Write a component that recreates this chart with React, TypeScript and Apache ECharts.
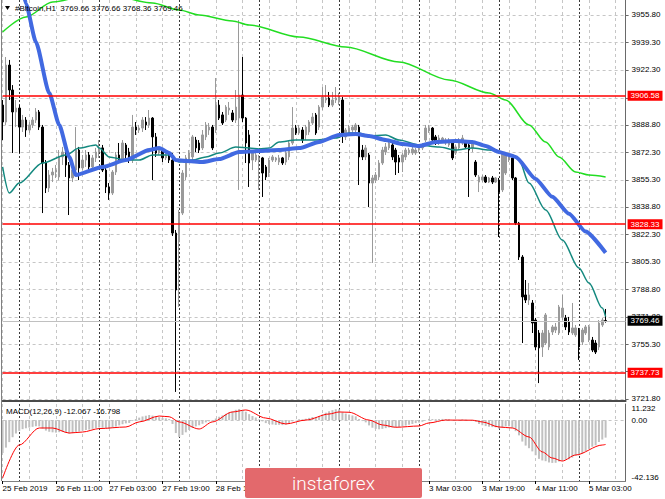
import { useEffect, useRef } from 'react';
import * as echarts from 'echarts';

// ---- Price data (H1 bars, 25 Feb 2019 19:00 .. 5 Mar 2019 08:00) ----
const OPEN = [
  3900.9, 3890.6, 3925.3, 3910.1, 3896.7, 3899.1, 3887.5, 3891.8, 3885.7, 3888.8,
  3891.8, 3896.7, 3887.5, 3865.6, 3850.4, 3858.3, 3860.1, 3857.1, 3869.3, 3872.3,
  3864.4, 3856.5, 3861.3, 3873.5, 3862.6, 3867.4, 3870.5, 3863.2, 3868.7, 3872.3,
  3874.8, 3861.3, 3851.0, 3847.3, 3860.1, 3870.5, 3867.4, 3876.6, 3872.3, 3867.4,
  3887.5, 3885.7, 3886.9, 3890.6, 3888.8, 3893.0, 3881.5, 3871.7, 3873.5, 3868.7,
  3870.5, 3867.4, 3822.9, 3817.5, 3835.1, 3857.1, 3867.4, 3869.3, 3879.6, 3877.8,
  3874.8, 3881.5, 3885.7, 3887.5, 3885.7, 3900.9, 3894.9, 3891.8, 3897.9, 3896.1,
  3891.8, 3893.0, 3907.0, 3893.0, 3882.7, 3867.4, 3867.4, 3867.4, 3868.7, 3863.2,
  3859.5, 3867.4, 3867.4, 3866.2, 3868.7, 3866.2, 3869.3, 3877.8, 3886.9, 3883.9,
  3885.7, 3882.7, 3884.5, 3890.0, 3894.9, 3887.5, 3899.7, 3904.0, 3905.2, 3900.9,
  3904.0, 3902.8, 3904.0, 3881.5, 3883.9, 3885.7, 3885.7, 3887.5, 3873.5, 3869.3,
  3870.5, 3853.4, 3855.2, 3857.1, 3865.6, 3872.3, 3874.8, 3876.6, 3873.5, 3868.7,
  3866.2, 3869.3, 3871.7, 3871.7, 3871.7, 3873.5, 3874.8, 3879.6, 3885.1, 3886.9,
  3881.5, 3877.8, 3878.4, 3877.8, 3876.6, 3877.8, 3871.7, 3874.8, 3877.8, 3878.4,
  3876.6, 3874.8, 3866.2, 3854.0, 3855.2, 3857.1, 3854.0, 3856.5, 3854.0, 3855.2,
  3849.2, 3859.5, 3867.4, 3868.7, 3856.5, 3829.0, 3808.3, 3785.2, 3782.1, 3780.3,
  3769.9, 3762.0, 3753.5, 3755.9, 3753.5, 3762.6, 3763.8, 3762.0, 3771.8, 3771.2,
  3768.7, 3762.0, 3760.8, 3763.8, 3756.5, 3762.0, 3757.7, 3757.7, 3755.9, 3753.5,
  3766.9, 3769.66,
];
const CLOSE = [
  3890.6, 3925.3, 3910.1, 3896.7, 3899.1, 3887.5, 3891.8, 3885.7, 3888.8, 3891.8,
  3896.7, 3887.5, 3865.6, 3850.4, 3858.3, 3860.1, 3861.3, 3869.3, 3872.3, 3864.4,
  3856.5, 3861.3, 3873.5, 3862.6, 3867.4, 3870.5, 3863.2, 3868.7, 3872.3, 3874.8,
  3861.3, 3851.0, 3847.3, 3860.1, 3870.5, 3867.4, 3877.8, 3870.5, 3867.4, 3887.5,
  3885.7, 3886.9, 3891.8, 3888.8, 3893.0, 3881.5, 3871.7, 3873.5, 3868.7, 3870.5,
  3867.4, 3822.9, 3788.2, 3835.1, 3859.5, 3868.7, 3871.7, 3881.5, 3874.8, 3873.5,
  3882.7, 3888.8, 3887.5, 3874.8, 3900.9, 3893.0, 3890.0, 3899.7, 3899.1, 3891.8,
  3899.7, 3907.0, 3893.0, 3877.8, 3865.6, 3871.7, 3870.5, 3868.7, 3859.5, 3857.1,
  3867.4, 3869.3, 3868.7, 3868.7, 3865.6, 3871.7, 3877.8, 3886.9, 3883.9, 3886.9,
  3879.6, 3887.5, 3890.6, 3893.6, 3883.9, 3899.7, 3905.8, 3905.2, 3900.9, 3904.0,
  3905.2, 3905.8, 3882.7, 3885.7, 3886.9, 3887.5, 3888.8, 3869.3, 3869.3, 3874.8,
  3853.4, 3856.5, 3858.3, 3865.6, 3873.5, 3875.4, 3877.8, 3869.3, 3866.2, 3866.2,
  3870.5, 3873.5, 3873.5, 3874.1, 3873.5, 3875.4, 3876.6, 3886.9, 3886.9, 3879.6,
  3878.4, 3880.8, 3880.8, 3879.6, 3879.6, 3868.7, 3875.4, 3879.6, 3880.8, 3875.4,
  3873.5, 3877.8, 3858.3, 3857.1, 3857.1, 3854.0, 3856.5, 3854.0, 3856.5, 3847.9,
  3871.7, 3870.5, 3869.3, 3856.5, 3829.0, 3808.3, 3784.0, 3782.1, 3785.2, 3768.1,
  3753.5, 3752.9, 3762.0, 3773.0, 3762.0, 3765.7, 3765.7, 3777.9, 3777.2, 3765.7,
  3762.6, 3765.1, 3765.1, 3753.5, 3763.8, 3765.7, 3765.7, 3751.6, 3750.4, 3768.1,
  3769.9, 3769.46,
];
const LOW = [
  3879.6, 3888.8, 3904.0, 3871.7, 3887.5, 3871.7, 3884.5, 3881.5, 3883.9, 3886.9,
  3890.0, 3885.7, 3835.1, 3847.3, 3847.9, 3854.0, 3856.5, 3855.2, 3864.4, 3857.1,
  3833.9, 3854.0, 3860.1, 3855.2, 3861.3, 3863.2, 3861.3, 3861.3, 3866.2, 3868.7,
  3860.1, 3847.3, 3843.1, 3846.1, 3858.3, 3865.6, 3866.2, 3867.4, 3865.6, 3865.6,
  3882.7, 3883.9, 3884.5, 3885.7, 3886.9, 3855.2, 3869.3, 3870.5, 3866.2, 3867.4,
  3865.6, 3821.1, 3726.1, 3777.9, 3833.9, 3855.2, 3866.2, 3867.4, 3872.3, 3871.7,
  3873.5, 3879.6, 3882.7, 3873.5, 3883.9, 3891.8, 3888.8, 3890.6, 3894.9, 3890.6,
  3890.0, 3849.2, 3890.6, 3865.6, 3851.0, 3861.3, 3866.2, 3849.2, 3844.9, 3855.2,
  3857.1, 3866.2, 3866.2, 3864.4, 3864.4, 3864.4, 3867.4, 3876.6, 3882.7, 3882.7,
  3877.8, 3879.6, 3882.7, 3888.8, 3882.7, 3885.7, 3897.9, 3902.2, 3899.7, 3899.7,
  3902.2, 3900.9, 3877.8, 3879.6, 3882.7, 3883.9, 3884.5, 3852.2, 3867.4, 3867.4,
  3838.8, 3804.7, 3853.4, 3855.2, 3864.4, 3870.5, 3873.5, 3867.4, 3858.3, 3859.5,
  3860.1, 3867.4, 3870.5, 3870.5, 3870.5, 3872.3, 3873.5, 3878.4, 3883.9, 3878.4,
  3876.6, 3876.6, 3877.8, 3876.6, 3875.4, 3867.4, 3870.5, 3873.5, 3876.6, 3874.8,
  3844.9, 3872.3, 3857.1, 3847.9, 3854.0, 3853.4, 3853.4, 3852.8, 3853.4, 3820.5,
  3847.9, 3858.3, 3866.2, 3855.2, 3827.8, 3806.5, 3755.9, 3780.3, 3779.1, 3762.0,
  3751.6, 3731.5, 3747.4, 3754.7, 3751.6, 3760.8, 3762.0, 3760.8, 3769.9, 3763.8,
  3760.8, 3760.8, 3759.6, 3745.6, 3754.7, 3760.8, 3756.5, 3750.4, 3749.2, 3751.6,
  3765.7, 3768.36,
];
const HIGH = [
  3904.0, 3930.2, 3928.4, 3913.1, 3904.0, 3900.9, 3894.9, 3893.6, 3890.6, 3893.6,
  3899.1, 3897.9, 3888.8, 3867.4, 3861.3, 3862.6, 3864.4, 3873.5, 3875.4, 3873.5,
  3866.2, 3864.4, 3887.5, 3875.4, 3870.5, 3873.5, 3872.3, 3870.5, 3874.8, 3879.6,
  3876.6, 3863.2, 3853.4, 3861.3, 3872.3, 3877.8, 3879.6, 3877.8, 3874.8, 3894.9,
  3890.6, 3888.8, 3893.6, 3893.6, 3897.9, 3893.6, 3883.9, 3875.4, 3874.8, 3872.3,
  3871.7, 3871.7, 3824.8, 3837.0, 3861.3, 3870.5, 3873.5, 3882.7, 3881.5, 3879.6,
  3885.7, 3890.6, 3890.0, 3888.8, 3917.4, 3904.0, 3896.7, 3900.9, 3902.8, 3897.9,
  3910.1, 3952.7, 3930.2, 3893.6, 3885.7, 3873.5, 3871.7, 3870.5, 3869.3, 3864.4,
  3868.7, 3870.5, 3869.3, 3870.5, 3869.3, 3874.8, 3879.6, 3899.7, 3888.8, 3888.8,
  3887.5, 3888.8, 3891.8, 3896.1, 3896.1, 3900.9, 3911.9, 3913.1, 3908.9, 3908.9,
  3911.9, 3908.3, 3905.8, 3886.9, 3888.8, 3888.8, 3890.0, 3888.8, 3876.6, 3876.6,
  3871.7, 3858.3, 3860.1, 3867.4, 3875.4, 3877.8, 3879.6, 3877.8, 3874.8, 3870.5,
  3871.7, 3874.8, 3874.8, 3875.4, 3874.8, 3876.6, 3877.8, 3888.8, 3888.8, 3887.5,
  3882.7, 3882.7, 3881.5, 3880.8, 3880.8, 3878.4, 3876.6, 3880.8, 3882.7, 3879.6,
  3877.8, 3878.4, 3867.4, 3858.3, 3858.3, 3858.3, 3857.1, 3857.7, 3857.1, 3856.5,
  3872.3, 3871.7, 3870.5, 3870.5, 3857.1, 3829.7, 3809.5, 3794.3, 3792.5, 3782.1,
  3771.2, 3763.8, 3763.8, 3774.2, 3763.8, 3766.9, 3768.1, 3779.1, 3785.2, 3773.0,
  3771.8, 3780.3, 3766.9, 3765.1, 3765.1, 3766.9, 3766.9, 3759.6, 3757.7, 3769.9,
  3771.2, 3776.66,
];

// Moving averages: [bar index, price]
const MA_GREEN = [
  [0, 3945.4], [7, 3954.6], [15, 3963.7], [29, 3969.8], [45, 3963.1], [53, 3958.8],
  [59, 3955.8], [69, 3952.1], [74, 3949.7], [89, 3942.4], [103, 3936.3], [119, 3927.2],
  [134, 3916.2], [146, 3908.3], [151, 3904.0], [158, 3888.8], [163, 3878.4], [167, 3869.3],
  [172, 3860.1], [176, 3858.3], [181, 3857.1],
];
const MA_BLUE = [
  [6, 3972.0], [7, 3962.7], [10, 3939.3], [14, 3908.2], [17, 3888.8], [20, 3869.3],
  [22, 3858.3], [30, 3863.2], [37, 3867.4], [44, 3873.5], [47, 3874.7], [50, 3871.7],
  [52, 3867.4], [55, 3866.8], [60, 3866.2], [65, 3868.0], [71, 3872.3], [77, 3872.9],
  [83, 3873.5], [89, 3874.7], [95, 3878.4], [101, 3882.7], [106, 3883.3], [110, 3882.1],
  [115, 3879.6], [120, 3877.2], [125, 3876.0], [130, 3878.4], [136, 3879.0], [141, 3878.4],
  [145, 3876.0], [149, 3872.3], [152, 3870.5], [154, 3869.3], [160, 3855.9], [165, 3845.0],
  [170, 3834.7], [175, 3823.8], [181, 3810.9],
];
const MA_TEAL = [
  [0, 3863.2], [2, 3847.3], [5, 3853.4], [12, 3865.6], [19, 3870.5], [23, 3874.7],
  [28, 3876.6], [29, 3874.7], [32, 3869.3], [37, 3867.4], [41, 3867.4], [45, 3870.5],
  [50, 3870.5], [53, 3866.2], [57, 3867.4], [61, 3869.3], [65, 3871.7], [70, 3875.3],
  [74, 3874.7], [77, 3874.1], [80, 3874.7], [83, 3878.4], [88, 3879.6], [94, 3879.6],
  [100, 3880.8], [104, 3883.9], [107, 3883.9], [110, 3882.1], [115, 3882.7], [119, 3879.6],
  [125, 3876.6], [131, 3875.3], [136, 3873.5], [141, 3874.7], [146, 3873.5], [153, 3870.5],
  [155, 3867.4], [158, 3853.4], [163, 3837.0], [168, 3818.7], [173, 3801.6], [176, 3792.5],
  [180, 3777.2], [181, 3772.0],
];

// MACD(12,26,9)
const MACD_HIST = [
  -22.7, -19.0, -15.2, -11.8, -9.2, -7.4, -6.2, -5.6, -5.1, -4.6,
  -4.2, -4.3, -5.8, -7.2, -8.0, -8.4, -8.6, -8.3, -8.0, -8.6,
  -9.2, -8.9, -8.1, -7.8, -7.3, -6.8, -6.5, -6.0, -5.4, -5.0,
  -5.2, -5.6, -5.9, -5.3, -4.4, -3.6, -2.8, -2.2, -1.9, -0.6,
  0.8, 1.8, 2.6, 3.1, 3.6, 3.2, 2.4, 2.1, 1.6, 1.3,
  0.8, -2.6, -8.9, -11.6, -10.2, -8.4, -6.8, -5.2, -4.3, -3.5,
  -2.5, -1.5, -0.8, -0.9, 1.2, 2.4, 3.3, 4.4, 5.3, 6.1,
  7.2, 7.8, 7.1, 5.9, 4.2, 2.9, 1.8, 0.6, -0.8, -2.0,
  -2.6, -3.0, -3.3, -3.2, -3.4, -3.0, -2.2, -0.8, 0.2, 0.7,
  0.6, 1.0, 1.6, 2.2, 2.1, 2.8, 4.0, 5.2, 6.2, 7.0,
  7.6, 7.5, 5.4, 4.6, 3.9, 3.3, 2.7, 0.8, -0.6, -1.5,
  -3.6, -5.2, -6.0, -6.3, -6.0, -5.5, -5.0, -4.9, -4.8, -4.6,
  -4.2, -3.7, -3.1, -2.6, -2.0, -1.6, -1.1, 0.1, 0.9, 0.8,
  0.7, 0.8, 0.9, 0.8, 0.6, -0.2, -0.3, 0.2, 0.6, 0.4,
  0.1, 0.2, -1.1, -2.6, -3.5, -4.1, -4.5, -4.8, -4.9, -5.8,
  -4.9, -4.3, -4.2, -5.2, -7.6, -10.5, -14.8, -17.6, -19.4, -21.6,
  -24.3, -26.8, -27.9, -28.4, -29.3, -29.6, -29.5, -28.6, -27.8, -27.5,
  -27.1, -25.9, -24.6, -24.3, -23.0, -21.6, -19.9, -18.4, -17.4, -15.1,
  -13.4, -12.067,
];
const MACD_SIGNAL = [
  [0, -40.1], [5, -17.2], [11, -5.4], [15, -5.4], [20, -8.9], [24, -8.2], [29, -5.8],
  [37, -4.7], [41, -1.2], [47, 2.9], [50, 2.4], [53, -1.2], [59, -6.1], [63, -1.2],
  [69, 5.7], [73, 7.1], [79, 1.5], [85, -2.6], [91, 0.1], [98, 4.3], [101, 5.7],
  [104, 5.5], [110, 0.1], [114, -3.3], [118, -4.9], [125, -4.0], [128, -1.9], [133, 0.1],
  [141, 0.0], [144, -1.2], [149, -4.7], [153, -5.4], [158, -11.6], [162, -22.0],
  [165, -26.2], [168, -28.3], [172, -24.1], [180, -17.2], [181, -16.798],
];

// Axis / levels
const PRICE_TICKS = [3955.8, 3939.3, 3922.3, 3905.3, 3888.8, 3872.3, 3855.3, 3838.8, 3822.3, 3805.3, 3788.8, 3771.8, 3755.3, 3738.8, 3721.8];
// labels that are not covered by the level boxes on the right
const PRICE_LABELS = [3955.8, 3939.3, 3922.3, 3888.8, 3872.3, 3855.3, 3838.8, 3822.3, 3805.3, 3788.8, 3771.8, 3755.3, 3721.8];
const PRICE_MIN = 3720.57;
const PRICE_MAX = 3964.94;
const MACD_MAX = 11.232;
const MACD_MIN = -42.136;
const RED_LEVELS = [3906.58, 3828.33, 3737.73];
const LAST_PRICE = 3769.46;
const X_TICK_LABELS = ['25 Feb 2019', '26 Feb 11:00', '27 Feb 03:00', '27 Feb 19:00', '28 Feb 11:00', '1 Mar 03:00', '1 Mar 19:00', '2 Mar 11:00', '3 Mar 03:00', '3 Mar 19:00', '4 Mar 11:00', '5 Mar 03:00'];
// tick labels fully hidden under the watermark in the reference
const X_LABELS_UNDER_LOGO = ['1 Mar 03:00', '1 Mar 19:00', '2 Mar 11:00'];
const LABEL_EVERY = 16;
const GRID_EVERY = 8;
const DAY_START = 5; // first midnight bar
const N_SLOTS = 188; // bars + right shift space

const FONT = '"Liberation Sans", Arial, sans-serif';

export default function App() {
  const ref = useRef<HTMLDivElement>(null);
  useEffect(() => {
    if (!ref.current) return;
    const chart = echarts.init(ref.current, null, { renderer: 'svg' });
    const cats = Array.from({ length: N_SLOTS }, (_, i) => String(i));
    const gridLine = { color: '#c6c6c6', type: [3, 3] as any, width: 1 };
    const dayLine = { color: '#3a3a3a', type: [2, 2] as any, width: 1 };
    const isGrid = (i: number) => i % GRID_EVERY === 0;
    const isDay = (i: number) => i >= DAY_START && (i - DAY_START) % 24 === 0;
    const isTick = (i: number) => i % LABEL_EVERY === 0 && i / LABEL_EVERY < X_TICK_LABELS.length;
    const isLabel = (i: number) => isTick(i) && !X_LABELS_UNDER_LOGO.includes(X_TICK_LABELS[i / LABEL_EVERY]);
    const left = 2.6;
    const width = 623;

    const lvlLabel = (bg: string) => ({
      show: true,
      position: 'end',
      distance: 2,
      formatter: (p: any) => Number(p.value).toFixed(2),
      backgroundColor: bg,
      color: '#fff',
      fontSize: 8,
      fontFamily: FONT,
      padding: [1, 3, 1, 3],
    });

    const option: any = {
      animation: false,
      backgroundColor: '#fff',
      textStyle: { fontFamily: FONT },
      grid: [
        { left, top: 0, width, height: 401, outerBoundsMode: 'none' },
        { left, top: 404, width, height: 77, outerBoundsMode: 'none' },
      ],
      xAxis: [
        {
          type: 'category', gridIndex: 0, data: cats, boundaryGap: false,
          axisLine: { show: true, onZero: false, lineStyle: { color: '#4a4a4a', width: 2 } },
          axisTick: { show: false }, axisLabel: { show: false },
          splitLine: { show: true, interval: (i: number) => isGrid(i), lineStyle: gridLine },
        },
        {
          type: 'category', gridIndex: 0, data: cats, boundaryGap: false, position: 'bottom',
          axisLine: { show: false }, axisTick: { show: false }, axisLabel: { show: false },
          splitLine: { show: true, interval: (i: number) => isDay(i), lineStyle: dayLine },
        },
        {
          type: 'category', gridIndex: 1, data: cats, boundaryGap: false,
          axisLine: { show: true, onZero: false, lineStyle: { color: '#808080', width: 1 } },
          axisTick: { show: true, interval: (i: number) => isTick(i), length: 3, lineStyle: { color: '#000' } },
          axisLabel: {
            show: true, interval: (i: number) => isLabel(i), align: 'left', margin: 3,
            fontSize: 8, fontFamily: FONT, color: '#000',
            formatter: (_v: string, i: number) => X_TICK_LABELS[i / LABEL_EVERY] ?? '',
          },
          splitLine: { show: true, interval: (i: number) => isGrid(i), lineStyle: gridLine },
        },
        {
          type: 'category', gridIndex: 1, data: cats, boundaryGap: false, position: 'bottom',
          axisLine: { show: false }, axisTick: { show: false }, axisLabel: { show: false },
          splitLine: { show: true, interval: (i: number) => isDay(i), lineStyle: dayLine },
        },
      ],
      yAxis: [
        {
          type: 'value', gridIndex: 0, position: 'right', min: PRICE_MIN, max: PRICE_MAX,
          axisLine: { show: true, lineStyle: { color: '#6a6a6a' } },
          axisTick: { show: true, customValues: PRICE_TICKS, length: 3, lineStyle: { color: '#6a6a6a' } },
          axisLabel: { customValues: PRICE_LABELS, formatter: (v: number) => v.toFixed(2), fontSize: 8, fontFamily: FONT, color: '#000', margin: 6 },
          splitLine: { show: true, lineStyle: gridLine },
        },
        {
          type: 'value', gridIndex: 1, position: 'right', min: MACD_MIN, max: MACD_MAX,
          axisLine: { show: true, lineStyle: { color: '#6a6a6a' } },
          axisTick: { show: false, customValues: [0] },
          axisLabel: { customValues: [0], formatter: (v: number) => v.toFixed(2), fontSize: 8, fontFamily: FONT, color: '#000', margin: 6 },
          splitLine: { show: true, lineStyle: gridLine },
        },
        {
          type: 'value', gridIndex: 1, position: 'right', min: MACD_MIN, max: MACD_MAX,
          axisLine: { show: false }, axisTick: { show: false, customValues: [MACD_MAX] },
          axisLabel: { customValues: [MACD_MAX], verticalAlign: 'top', formatter: (v: number) => v.toFixed(3), fontSize: 8, fontFamily: FONT, color: '#000', margin: 6 },
          splitLine: { show: false },
        },
        {
          type: 'value', gridIndex: 1, position: 'right', min: MACD_MIN, max: MACD_MAX,
          axisLine: { show: false }, axisTick: { show: false, customValues: [MACD_MIN] },
          axisLabel: { customValues: [MACD_MIN], verticalAlign: 'bottom', formatter: (v: number) => v.toFixed(3), fontSize: 8, fontFamily: FONT, color: '#000', margin: 6 },
          splitLine: { show: false },
        },
      ],
      series: [
        {
          type: 'candlestick', xAxisIndex: 0, yAxisIndex: 0, barWidth: 2,
          data: OPEN.map((o, i) => [o, CLOSE[i], LOW[i], HIGH[i]]),
          itemStyle: { color: '#9a9a9a', color0: '#000', borderColor: '#9a9a9a', borderColor0: '#000', borderWidth: 1 },
          markLine: {
            silent: true, symbol: ['none', 'none'], animation: false,
            data: [
              { yAxis: LAST_PRICE, lineStyle: { color: '#c0c0c0', width: 1, type: 'solid' }, label: lvlLabel('#000') },
              ...RED_LEVELS.map((v) => ({ yAxis: v, lineStyle: { color: '#ff0000', width: 1.5, type: 'solid' }, label: lvlLabel('#ff0000') })),
            ],
          },
          z: 2,
        },
        {
          type: 'line', xAxisIndex: 0, yAxisIndex: 0, data: MA_GREEN, showSymbol: false,
          smooth: 0.3, smoothMonotone: 'x', lineStyle: { color: '#22dd22', width: 1.5 }, z: 3,
        },
        {
          type: 'line', xAxisIndex: 0, yAxisIndex: 0, data: MA_TEAL, showSymbol: false,
          smooth: 0.3, smoothMonotone: 'x', lineStyle: { color: '#14897f', width: 1.5 }, z: 3,
        },
        {
          type: 'line', xAxisIndex: 0, yAxisIndex: 0, data: MA_BLUE, showSymbol: false,
          smooth: 0.2, smoothMonotone: 'x', lineStyle: { color: '#4169e1', width: 4 }, z: 4,
        },
        {
          type: 'bar', xAxisIndex: 2, yAxisIndex: 1, data: MACD_HIST, barWidth: 2,
          itemStyle: { color: '#c0c0c0' },
        },
        {
          type: 'line', xAxisIndex: 2, yAxisIndex: 1, data: MACD_SIGNAL, showSymbol: false,
          smooth: 0.3, smoothMonotone: 'x', lineStyle: { color: '#ff0000', width: 1 },
        },
      ],
      graphic: [
        { type: 'line', shape: { x1: 1.5, y1: 0, x2: 1.5, y2: 481 }, style: { stroke: '#808080', lineWidth: 1 }, z: 10 },
        { type: 'polygon', shape: { points: [[5, 6], [10, 6], [7.5, 10]] }, style: { fill: '#000' }, z: 20 },
        { type: 'text', x: 15, y: 8, style: { text: '#Bitcoin,H1  3769.66 3776.66 3768.36 3769.46', fill: '#000', fontSize: 8, fontFamily: FONT, verticalAlign: 'middle' }, z: 20 },
        { type: 'text', x: 6, y: 411, style: { text: 'MACD(12,26,9) -12.067 -16.798', fill: '#000', fontSize: 8, fontFamily: FONT, verticalAlign: 'middle' }, z: 20 },
        {
          type: 'group', z: 50,
          children: [
            { type: 'rect', shape: { x: 245, y: 468, width: 177, height: 30, r: 2 }, style: { fill: '#e3696c' }, z: 50 },
            { type: 'text', x: 333.5, y: 483, style: { text: 'instaforex', fill: '#fff', fontSize: 19, fontWeight: 300, fontFamily: 'Roboto, sans-serif', align: 'center', verticalAlign: 'middle' }, z: 51 },
          ],
        },
      ],
    };
    chart.setOption(option);
    return () => chart.dispose();
  }, []);
  return <div ref={ref} style={{ position: 'absolute', left: 0, top: 0, width: 665, height: 499, background: '#fff' }} />;
}
